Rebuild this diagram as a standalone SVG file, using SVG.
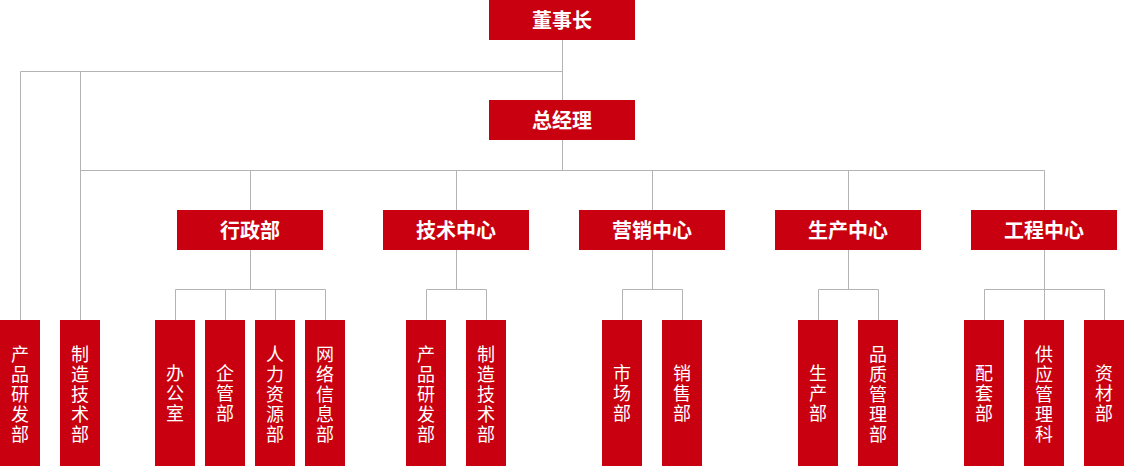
<svg xmlns="http://www.w3.org/2000/svg" width="1125" height="466" viewBox="0 0 1125 466">
<style>
.box{fill:#c9000f}
.ln{stroke:#b3b3b3;stroke-width:1;fill:none}
.t1{font-family:"Noto Sans CJK SC","Microsoft YaHei",sans-serif;font-weight:bold;font-size:20px;fill:#fff;text-anchor:middle}
.t2{font-family:"Noto Sans CJK SC","Microsoft YaHei",sans-serif;font-size:18px;fill:#fff;text-anchor:middle;writing-mode:vertical-rl;letter-spacing:2px}
</style>
<rect width="1125" height="466" fill="#fff"/>
<g id="connectors" class="ln">
<path d="M562.5 40V170.5"/>
<path d="M20.5 320V71.5H562.5"/>
<path d="M80.5 320V71.5"/>
<path d="M80.5 170.5H1044.5"/>
<path d="M250.5 170.5V210M456.5 170.5V210M652.5 170.5V210M848.5 170.5V210M1044.5 170.5V210"/>
<path d="M250.5 250V289.5M175.5 320V289.5H325.5V320M225.5 289.5V320M275.5 289.5V320"/>
<path d="M456.5 250V289.5M426.5 320V289.5H486.5V320"/>
<path d="M652.5 250V289.5M622.5 320V289.5H682.5V320"/>
<path d="M848.5 250V289.5M818.5 320V289.5H878.5V320"/>
<path d="M1044.5 250V320M984.5 320V289.5H1104.5V320"/>
</g>
<g id="chairman"><rect class="box" x="489" y="0" width="146" height="40"/><text class="t1" x="562" y="28">董事长</text></g>
<g id="gm"><rect class="box" x="489" y="100" width="146" height="40"/><text class="t1" x="562" y="128">总经理</text></g>
<g id="admin"><rect class="box" x="177" y="210" width="146" height="40"/><text class="t1" x="250" y="238">行政部</text></g>
<g id="tech"><rect class="box" x="383" y="210" width="146" height="40"/><text class="t1" x="456" y="238">技术中心</text></g>
<g id="sales"><rect class="box" x="579" y="210" width="146" height="40"/><text class="t1" x="652" y="238">营销中心</text></g>
<g id="prod"><rect class="box" x="775" y="210" width="146" height="40"/><text class="t1" x="848" y="238">生产中心</text></g>
<g id="eng"><rect class="box" x="971" y="210" width="146" height="40"/><text class="t1" x="1044" y="238">工程中心</text></g>

<g id="rd1"><rect class="box" x="0" y="320" width="40" height="146"/><text class="t2" x="20" y="395">产品研发部</text></g>
<g id="mt1"><rect class="box" x="60" y="320" width="40" height="146"/><text class="t2" x="80" y="395">制造技术部</text></g>
<g id="office"><rect class="box" x="155" y="320" width="40" height="146"/><text class="t2" x="175" y="394">办公室</text></g>
<g id="mgmt"><rect class="box" x="205" y="320" width="40" height="146"/><text class="t2" x="225" y="394">企管部</text></g>
<g id="hr"><rect class="box" x="255" y="320" width="40" height="146"/><text class="t2" x="275" y="395">人力资源部</text></g>
<g id="it"><rect class="box" x="305" y="320" width="40" height="146"/><text class="t2" x="325" y="395">网络信息部</text></g>
<g id="rd2"><rect class="box" x="406" y="320" width="40" height="146"/><text class="t2" x="426" y="395">产品研发部</text></g>
<g id="mt2"><rect class="box" x="466" y="320" width="40" height="146"/><text class="t2" x="486" y="395">制造技术部</text></g>
<g id="market"><rect class="box" x="602" y="320" width="40" height="146"/><text class="t2" x="622" y="394">市场部</text></g>
<g id="salesdept"><rect class="box" x="662" y="320" width="40" height="146"/><text class="t2" x="682" y="394">销售部</text></g>
<g id="proddept"><rect class="box" x="798" y="320" width="40" height="146"/><text class="t2" x="818" y="394">生产部</text></g>
<g id="qa"><rect class="box" x="858" y="320" width="40" height="146"/><text class="t2" x="878" y="395">品质管理部</text></g>
<g id="parts"><rect class="box" x="964" y="320" width="40" height="146"/><text class="t2" x="984" y="394">配套部</text></g>
<g id="supply"><rect class="box" x="1024" y="320" width="40" height="146"/><text class="t2" x="1044" y="395">供应管理科</text></g>
<g id="materials"><rect class="box" x="1084" y="320" width="40" height="146"/><text class="t2" x="1104" y="394">资材部</text></g>
</svg>
